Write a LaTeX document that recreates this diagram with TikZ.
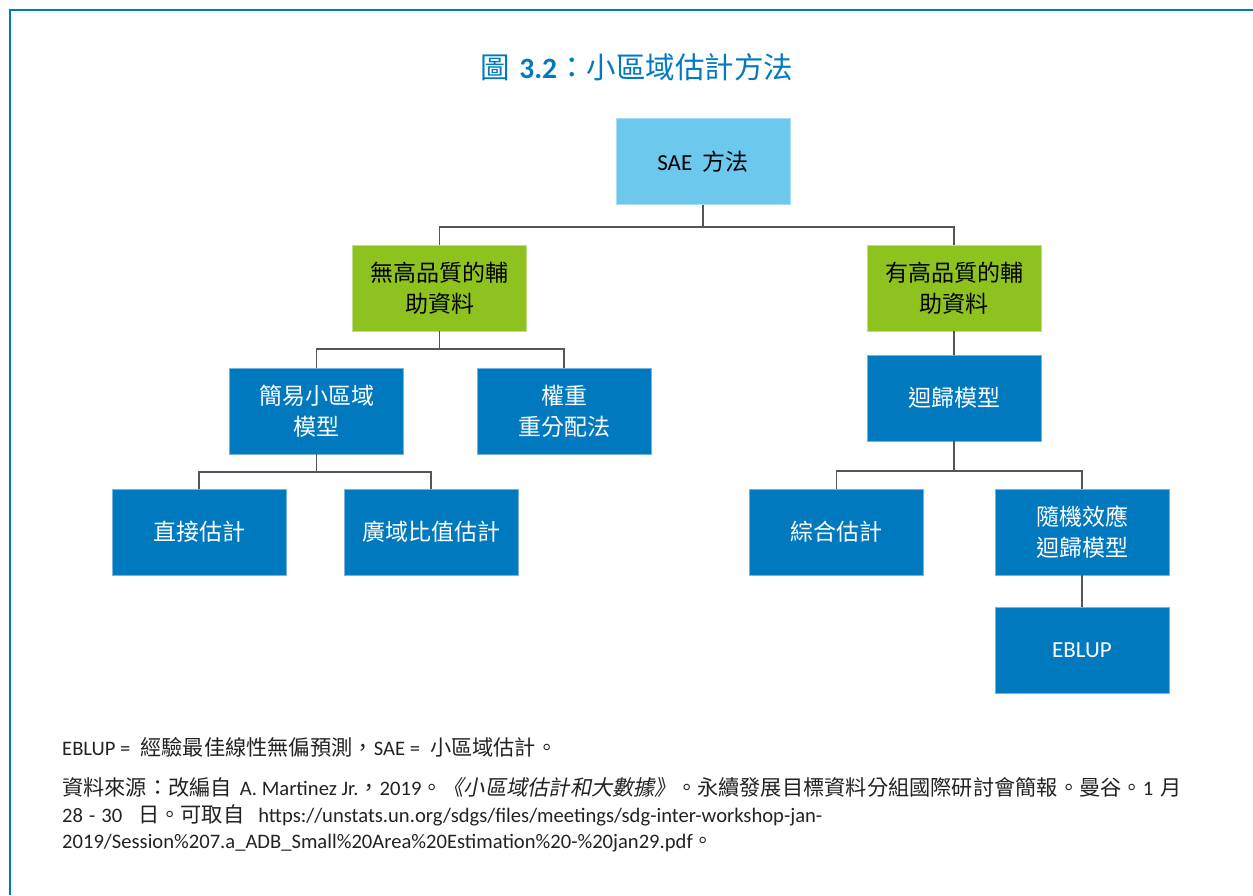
\documentclass[tikz,border=0pt]{standalone}
\usepackage{fontspec}
\setmainfont{Carlito}
\newfontfamily\cjk{Noto Sans CJK TC}
\newfontfamily\cjknote[Scale=1.03]{Noto Sans CJK TC}
\newfontfamily\cjkit[FakeSlant=0.2,Scale=1.03]{Noto Sans CJK TC}
\definecolor{sdgblue}{HTML}{0079BF}
\definecolor{lightblue}{HTML}{6CC8EC}
\definecolor{sdggreen}{HTML}{8DC21F}
\definecolor{linegray}{HTML}{555555}
\definecolor{notegray}{HTML}{222222}
\tikzset{
  box/.style={minimum width=174pt, minimum height=86pt, inner sep=0pt, align=center,
    font=\fontsize{23}{31}\selectfont, line width=0.8pt},
  dbox/.style={box, fill=sdgblue, draw=sdgblue!55!white, text=white},
  gbox/.style={box, fill=sdggreen, draw=sdggreen!55!white, text=black},
  lbox/.style={box, fill=lightblue, draw=lightblue!60!white, text=black},
  conn/.style={draw=linegray, line width=1.5pt},
  frame/.style={draw=sdgblue, line width=2pt},
  note/.style={anchor=base west, inner sep=0pt, text=notegray, font=\fontsize{20.6}{26}\selectfont}
}
\begin{document}
\begin{tikzpicture}[x=1pt,y=-1pt]
\useasboundingbox (0,0) rectangle (1253,895);
\draw[frame] (1253,10) -- (10,10) -- (10,895);

\node[text=sdgblue, font=\fontsize{29.5}{34}\selectfont] (title) at (637,67)
  {{\cjk 圖}\hspace{9pt}\textbf{3.2}{\cjk ：小區域估計方法}};

\node[lbox] (sae) at (703,161.5) {SAE\ \ {\cjk 方法}};
\node[gbox] (g1) at (439.5,288) {{\cjk 無高品質的輔}\\{\cjk 助資料}};
\node[gbox] (g2) at (954,288) {{\cjk 有高品質的輔}\\{\cjk 助資料}};
\node[dbox] (m1) at (316.5,411) {{\cjk 簡易小區域}\\{\cjk 模型}};
\node[dbox] (m2) at (564,411) {{\cjk 權重}\\{\cjk 重分配法}};
\node[dbox] (m3) at (954,398) {{\cjk 迴歸模型}};
\node[dbox] (l1) at (199,532) {{\cjk 直接估計}};
\node[dbox] (l2) at (431,532) {{\cjk 廣域比值估計}};
\node[dbox] (l3) at (836.5,532) {{\cjk 綜合估計}};
\node[dbox] (l4) at (1082,532) {{\cjk 隨機效應}\\{\cjk 迴歸模型}};
\node[dbox] (eb) at (1082,650) {EBLUP};

\coordinate (j0) at (703,227);
\coordinate (j1) at (439.5,349);
\coordinate (j2) at (316.5,472);
\coordinate (j3) at (954,471);
\draw[conn] (sae.south) -- (j0) -| (g1.north);
\draw[conn] (j0) -| (g2.north);
\draw[conn] (g1.south) -- (j1) -| (m1.north);
\draw[conn] (j1) -| (m2.north);
\draw[conn] (g2.south) -- (m3.north);
\draw[conn] (m1.south) -- (j2) -| (l1.north);
\draw[conn] (j2) -| (l2.north);
\draw[conn] (m3.south) -- (j3) -| (l3.north);
\draw[conn] (j3) -| (l4.north);
\draw[conn] (l4.south) -- (eb.north);

\node[note] (n1) at (62,755) {EBLUP =\hspace{10pt}{\cjknote 經驗最佳線性無偏預測，}SAE =\hspace{10pt}{\cjknote 小區域估計。}};
\node[note] (n2) at (62,795) {{\cjknote 資料來源：改編自}\hspace{8pt}A. Martinez Jr.{\cjknote ，}2019{\cjknote 。}{\cjkit 《小區域估計和大數據》}{\cjknote 。永續發展目標資料分組國際研討會簡報。曼谷。}1\hspace{7pt}{\cjknote 月}};
\node[note] (n3) at (62,822) {28\hspace{6pt}-\hspace{6pt}30\hspace{16pt}{\cjknote 日。可取自}\hspace{14pt}https://unstats.un.org/sdgs/files/meetings/sdg-inter-workshop-jan-};
\node[note] (n4) at (62,848) {2019/Session\%207.a\_ADB\_Small\%20Area\%20Estimation\%20-\%20jan29.pdf{\cjknote 。}};
\end{tikzpicture}
\end{document}
